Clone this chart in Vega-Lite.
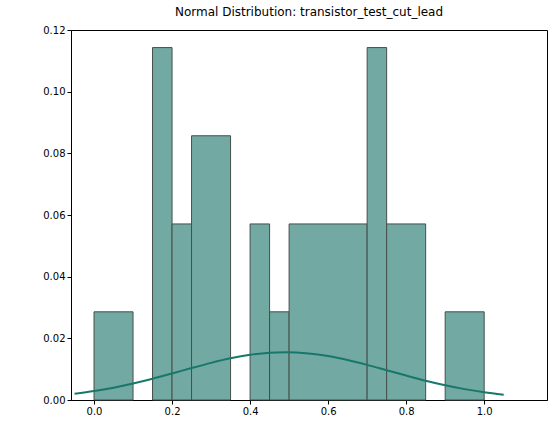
{
  "$schema": "https://vega.github.io/schema/vega-lite/v6.json",
  "autosize": "none",
  "width": 476,
  "height": 370,
  "padding": {"left": 71, "top": 30, "right": 9, "bottom": 33},
  "background": "white",
  "title": {"text": "Normal Distribution: transistor_test_cut_lead", "font": "DejaVu Sans", "fontSize": 12, "fontWeight": "normal", "offset": 6},
  "config": {
    "view": {"stroke": "black", "strokeWidth": 1},
    "axis": {"labelFont": "DejaVu Sans", "labelFontSize": 10, "labelColor": "black", "tickColor": "black", "domainColor": "black", "grid": false, "title": null, "tickSize": 4}
  },
  "layer": [
    {
      "data": {"values": [
        {"a": 0.0, "b": 0.1, "d": 0.0286},
        {"a": 0.15, "b": 0.2, "d": 0.1143},
        {"a": 0.2, "b": 0.25, "d": 0.0571},
        {"a": 0.25, "b": 0.35, "d": 0.0857},
        {"a": 0.4, "b": 0.45, "d": 0.0571},
        {"a": 0.45, "b": 0.5, "d": 0.0286},
        {"a": 0.5, "b": 0.7, "d": 0.0571},
        {"a": 0.7, "b": 0.75, "d": 0.1143},
        {"a": 0.75, "b": 0.85, "d": 0.0571},
        {"a": 0.9, "b": 1.0, "d": 0.0286}
      ]},
      "mark": {"type": "rect", "fill": "#72a9a2", "stroke": "#454f4c", "strokeWidth": 1},
      "encoding": {
        "x": {"field": "a", "type": "quantitative", "scale": {"domain": [-0.059, 1.161], "nice": false, "zero": false}, "axis": {"values": [0, 0.2, 0.4, 0.6, 0.8, 1.0], "format": ".1f"}},
        "x2": {"field": "b"},
        "y": {"field": "d", "type": "quantitative", "scale": {"domain": [0, 0.12], "nice": false}, "axis": {"values": [0, 0.02, 0.04, 0.06, 0.08, 0.1, 0.12], "format": ".2f"}},
        "y2": {"datum": 0}
      }
    },
    {
      "data": {"values": [
        {"x": -0.05, "y": 0.00202}, {"x": 0.0, "y": 0.00289}, {"x": 0.05, "y": 0.0040},
        {"x": 0.1, "y": 0.00535}, {"x": 0.15, "y": 0.0069}, {"x": 0.2, "y": 0.0086},
        {"x": 0.25, "y": 0.01036}, {"x": 0.3, "y": 0.01204}, {"x": 0.35, "y": 0.01352},
        {"x": 0.4, "y": 0.01465}, {"x": 0.45, "y": 0.01533}, {"x": 0.49, "y": 0.0155},
        {"x": 0.55, "y": 0.01511}, {"x": 0.6, "y": 0.01424}, {"x": 0.65, "y": 0.01296},
        {"x": 0.7, "y": 0.01139}, {"x": 0.75, "y": 0.00966}, {"x": 0.8, "y": 0.00792},
        {"x": 0.85, "y": 0.00626}, {"x": 0.9, "y": 0.00478}, {"x": 0.95, "y": 0.00353},
        {"x": 1.0, "y": 0.00252}, {"x": 1.05, "y": 0.00173}
      ]},
      "mark": {"type": "line", "color": "#17786a", "strokeWidth": 2, "interpolate": "monotone"},
      "encoding": {
        "x": {"field": "x", "type": "quantitative"},
        "y": {"field": "y", "type": "quantitative"}
      }
    }
  ]
}
